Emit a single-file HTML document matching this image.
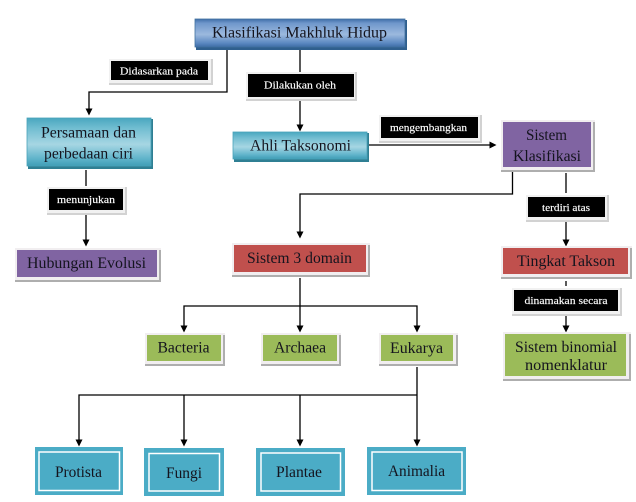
<!DOCTYPE html>
<html>
<head>
<meta charset="utf-8">
<style>
html,body{margin:0;padding:0;background:#fff;width:636px;height:502px;overflow:hidden}
svg{display:block}
text{font-family:"Liberation Serif",serif;text-anchor:middle}
.t{font-size:15.5px;fill:#14141e}
.s{font-size:10.5px;fill:#fff;stroke:#fff;stroke-width:0.15}
.l{stroke:#000;stroke-width:1.3;fill:none}
.o{fill:#f1eef0}
.sh{fill:#aeaeae}
.b1{fill:#f1f1f1}
.b2{fill:#d2d2d2}
</style>
</head>
<body>
<svg width="636" height="502" viewBox="0 0 636 502" xmlns="http://www.w3.org/2000/svg">
<defs>
<linearGradient id="blue" x1="0" y1="0" x2="0" y2="1">
<stop offset="0" stop-color="#3f6ea8"/><stop offset="0.15" stop-color="#6f97cb"/><stop offset="0.55" stop-color="#9cb9de"/><stop offset="0.85" stop-color="#5d8ac2"/><stop offset="1" stop-color="#3e6ca6"/>
</linearGradient>
<linearGradient id="teal" x1="0" y1="0" x2="0" y2="1">
<stop offset="0" stop-color="#49a7bf"/><stop offset="0.2" stop-color="#6fbcd0"/><stop offset="0.55" stop-color="#a6d6e3"/><stop offset="0.85" stop-color="#5fb3ca"/><stop offset="1" stop-color="#3f9db6"/>
</linearGradient>
</defs>

<!-- connectors -->
<path class="l" d="M227 49V92H89V109"/>
<path class="l" d="M300 49V72M300 100V125"/>
<path class="l" d="M368 145H490"/>
<path class="l" d="M512.5 172V194H300V232"/>
<path class="l" d="M566 173V193M566 222V240M566 281V286M566 316V326"/>
<path class="l" d="M86 170V186M86 215V240"/>
<path class="l" d="M300 278V326M184 326V306H417V326"/>
<path class="l" d="M417 367V440M79 440V395H417M184 395V440M300 395V440"/>
<g fill="#000">
<path d="M85.500 108.500h7l-3.500 7z"/>
<path d="M296.500 124.500h7l-3.500 7z"/>
<path d="M489.500 141.500l7 3.500-7 3.500z"/>
<path d="M296.500 231.500h7l-3.500 7z"/>
<path d="M562.500 239.500h7l-3.500 7z"/>
<path d="M562.500 325.500h7l-3.500 7z"/>
<path d="M82.500 239.500h7l-3.500 7z"/>
<path d="M180.500 325.500h7l-3.500 7z"/>
<path d="M296.500 325.500h7l-3.500 7z"/>
<path d="M413.500 325.500h7l-3.500 7z"/>
<path d="M75.500 439.500h7l-3.500 7z"/>
<path d="M180.500 439.500h7l-3.500 7z"/>
<path d="M296.500 439.500h7l-3.500 7z"/>
<path d="M413.500 439.500h7l-3.500 7z"/>
</g>

<!-- title -->
<rect x="196" y="20" width="211" height="30" fill="#2f5f8e"/>
<rect x="195" y="19" width="210" height="28" fill="url(#blue)" stroke="#41719f" stroke-width="0.8"/>
<text class="t" x="299.500" y="37.500" textLength="175" lengthAdjust="spacingAndGlyphs">Klasifikasi Makhluk Hidup</text>

<!-- teal gradient boxes -->
<rect x="28" y="119" width="125" height="50" fill="#2f7f93"/>
<rect x="27" y="118" width="124" height="48" fill="url(#teal)" stroke="#4aa3ba" stroke-width="0.8"/>
<text class="t" x="88.500" y="137.500" textLength="95" lengthAdjust="spacingAndGlyphs">Persamaan dan</text>
<text class="t" x="88.500" y="158.500" textLength="89" lengthAdjust="spacingAndGlyphs">perbedaan ciri</text>

<rect x="234" y="133" width="135" height="29" fill="#2f7f93"/>
<rect x="233" y="132" width="134" height="27" fill="url(#teal)" stroke="#4aa3ba" stroke-width="0.8"/>
<text class="t" x="300.500" y="150.500" textLength="101" lengthAdjust="spacingAndGlyphs">Ahli Taksonomi</text>

<!-- black labels -->
<rect x="109" y="59" width="104" height="26" class="b2"/><rect x="109" y="59" width="102" height="24" class="b1"/><rect x="111" y="61" width="97" height="19" fill="#000"/>
<text class="s" x="159" y="74.500" textLength="78" lengthAdjust="spacingAndGlyphs">Didasarkan pada</text>

<rect x="246" y="72" width="111" height="29" class="b2"/><rect x="246" y="72" width="109" height="27" class="b1"/><rect x="248" y="74" width="106" height="23" fill="#000"/>
<text class="s" x="300" y="88.500" textLength="72" lengthAdjust="spacingAndGlyphs">Dilakukan oleh</text>

<rect x="379" y="115" width="103" height="28" class="b2"/><rect x="379" y="115" width="101" height="26" class="b1"/><rect x="381" y="117" width="97" height="21" fill="#000"/>
<text class="s" x="428.500" y="131" textLength="77" lengthAdjust="spacingAndGlyphs">mengembangkan</text>

<rect x="47" y="187" width="80" height="28" class="b2"/><rect x="47" y="187" width="78" height="26" class="b1"/><rect x="49" y="189" width="74" height="21" fill="#000"/>
<text class="s" x="86" y="203" textLength="58" lengthAdjust="spacingAndGlyphs">menunjukan</text>

<rect x="526" y="195" width="83" height="27" class="b2"/><rect x="526" y="195" width="81" height="25" class="b1"/><rect x="528" y="197" width="77" height="20" fill="#000"/>
<text class="s" x="566" y="211" textLength="48" lengthAdjust="spacingAndGlyphs">terdiri atas</text>

<rect x="512" y="288" width="110" height="28" class="b2"/><rect x="512" y="288" width="108" height="26" class="b1"/><rect x="514" y="290" width="104" height="21" fill="#000"/>
<text class="s" x="566" y="304" textLength="83" lengthAdjust="spacingAndGlyphs">dinamakan secara</text>

<!-- purple -->
<rect x="501" y="120" width="94" height="52" class="o"/><rect x="501" y="170" width="94" height="2" class="sh"/><rect x="593" y="122" width="2" height="50" class="sh"/>
<rect x="503" y="122" width="88" height="45" fill="#8064a2"/>
<text class="t" x="546.500" y="140" textLength="41" lengthAdjust="spacingAndGlyphs">Sistem</text>
<text class="t" x="547" y="161" textLength="68" lengthAdjust="spacingAndGlyphs">Klasifikasi</text>

<rect x="15" y="248" width="146" height="34" class="o"/><rect x="15" y="280" width="146" height="2" class="sh"/><rect x="159" y="250" width="2" height="32" class="sh"/>
<rect x="17" y="250" width="140" height="27" fill="#8064a2"/>
<text class="t" x="86.500" y="268" textLength="119" lengthAdjust="spacingAndGlyphs">Hubungan Evolusi</text>

<!-- red -->
<rect x="232" y="243" width="138" height="34" class="o"/><rect x="232" y="275" width="138" height="2" class="sh"/><rect x="368" y="245" width="2" height="32" class="sh"/>
<rect x="234" y="245" width="132" height="27" fill="#c0504d"/>
<text class="t" x="299.500" y="263" textLength="105" lengthAdjust="spacingAndGlyphs">Sistem 3 domain</text>

<rect x="501" y="246" width="131" height="33" class="o"/><rect x="501" y="277" width="131" height="2" class="sh"/><rect x="630" y="248" width="2" height="31" class="sh"/>
<rect x="503" y="248" width="125" height="26" fill="#c0504d"/>
<text class="t" x="566" y="266" textLength="98" lengthAdjust="spacingAndGlyphs">Tingkat Takson</text>

<!-- green -->
<rect x="503" y="332" width="128" height="49" class="o"/><rect x="503" y="379" width="128" height="2" class="sh"/><rect x="629" y="334" width="2" height="47" class="sh"/>
<rect x="505" y="334" width="121" height="42" fill="#9bbb59"/>
<text class="t" x="566" y="352" textLength="102" lengthAdjust="spacingAndGlyphs">Sistem binomial</text>
<text class="t" x="566" y="370" textLength="82" lengthAdjust="spacingAndGlyphs">nomenklatur</text>

<rect x="145" y="333" width="80" height="33" class="o"/><rect x="145" y="364" width="80" height="2" class="sh"/><rect x="223" y="335" width="2" height="31" class="sh"/>
<rect x="147" y="335" width="74" height="26" fill="#9bbb59"/>
<text class="t" x="183.500" y="352.500" textLength="52" lengthAdjust="spacingAndGlyphs">Bacteria</text>

<rect x="261" y="333" width="80" height="33" class="o"/><rect x="261" y="364" width="80" height="2" class="sh"/><rect x="339" y="335" width="2" height="31" class="sh"/>
<rect x="263" y="335" width="74" height="26" fill="#9bbb59"/>
<text class="t" x="300" y="352.500" textLength="52" lengthAdjust="spacingAndGlyphs">Archaea</text>

<rect x="379" y="333" width="79" height="33" class="o"/><rect x="379" y="364" width="79" height="2" class="sh"/><rect x="456" y="335" width="2" height="31" class="sh"/>
<rect x="381" y="335" width="72" height="26" fill="#9bbb59"/>
<text class="t" x="416.500" y="353" textLength="53" lengthAdjust="spacingAndGlyphs">Eukarya</text>

<!-- bottom row -->
<rect x="35" y="447" width="88" height="48" fill="#4bacc6"/>
<rect x="39" y="452" width="80.500" height="38.500" fill="none" stroke="#fff" stroke-width="1.500"/>
<text class="t" x="78.500" y="477" textLength="47" lengthAdjust="spacingAndGlyphs">Protista</text>

<rect x="144" y="448" width="80" height="48" fill="#4bacc6"/>
<rect x="149" y="453.500" width="70.500" height="37.500" fill="none" stroke="#fff" stroke-width="1.500"/>
<text class="t" x="184" y="478" textLength="36" lengthAdjust="spacingAndGlyphs">Fungi</text>

<rect x="256" y="448" width="89" height="48" fill="#4bacc6"/>
<rect x="261" y="453" width="79.500" height="38" fill="none" stroke="#fff" stroke-width="1.500"/>
<text class="t" x="299" y="477" textLength="46" lengthAdjust="spacingAndGlyphs">Plantae</text>

<rect x="367" y="447" width="99" height="48" fill="#4bacc6"/>
<rect x="372" y="452" width="90" height="38.500" fill="none" stroke="#fff" stroke-width="1.500"/>
<text class="t" x="416.500" y="476" textLength="57" lengthAdjust="spacingAndGlyphs">Animalia</text>
</svg>
</body>
</html>
